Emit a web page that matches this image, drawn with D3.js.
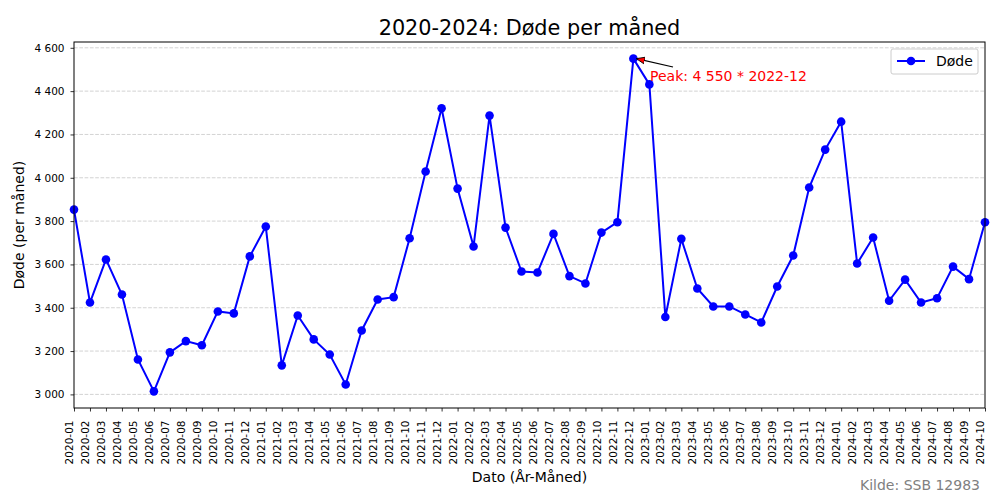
<!DOCTYPE html>
<html><head><meta charset="utf-8">
<script src="https://cdn.jsdelivr.net/npm/d3@7"></script>
<style>body{margin:0;background:#fff}svg{display:block}svg text{font-family:"DejaVu Sans",sans-serif}</style>
</head><body><svg id="c" width="1000" height="500"></svg>
<script>
const months = ["2020-01","2020-02","2020-03","2020-04","2020-05","2020-06","2020-07","2020-08","2020-09","2020-10","2020-11","2020-12",
"2021-01","2021-02","2021-03","2021-04","2021-05","2021-06","2021-07","2021-08","2021-09","2021-10","2021-11","2021-12",
"2022-01","2022-02","2022-03","2022-04","2022-05","2022-06","2022-07","2022-08","2022-09","2022-10","2022-11","2022-12",
"2023-01","2023-02","2023-03","2023-04","2023-05","2023-06","2023-07","2023-08","2023-09","2023-10","2023-11","2023-12",
"2024-01","2024-02","2024-03","2024-04","2024-05","2024-06","2024-07","2024-08","2024-09","2024-10"];
const deaths = [3853,3424,3623,3461,3161,3014,3194,3246,3227,3383,3374,3637,
3775,3134,3364,3254,3184,3046,3295,3438,3449,3721,4029,4321,
3950,3683,4287,3770,3567,3563,3741,3546,3512,3747,3795,4550,
4431,3357,3718,3489,3406,3406,3369,3332,3498,3641,3955,4130,
4259,3604,3724,3432,3530,3424,3444,3590,3532,3795];
const yTicks = [3000,3200,3400,3600,3800,4000,4200,4400,4600];

const svg = d3.select("#c");
const L=74,R=985,T=42,B=408;
const x = d3.scalePoint().domain(months).range([L,R]).padding(0);
const mn=d3.min(deaths), mx=d3.max(deaths), pad=(mx-mn)*0.05;
const y = d3.scaleLinear().domain([mn-pad, mx+pad]).range([B,T]);
const fmt = d3.formatLocale({decimal:",",thousands:" ",grouping:[3],currency:["",""]}).format(",d");

// grid
svg.append("g").selectAll("line").data(yTicks).join("line")
  .attr("x1",L).attr("x2",R).attr("y1",d=>y(d)).attr("y2",d=>y(d))
  .attr("stroke","#b0b0b0").attr("stroke-opacity",0.7).attr("stroke-width",0.8).attr("stroke-dasharray","3.7,1.6");

// axes
const gx = svg.append("g").attr("transform",`translate(0,${B})`)
  .call(d3.axisBottom(x).tickSize(3.5).tickPadding(3.5));
gx.attr("font-family",null).attr("font-size",null);
gx.select(".domain").remove();
gx.selectAll("line").attr("stroke","#000").attr("stroke-width",0.8);
gx.selectAll("text").style("font-size","10.5px").attr("fill","#000")
  .attr("transform","rotate(-90)").attr("text-anchor","end").attr("y",0).attr("x",-12.5).attr("dy","-0.13em");
const gy = svg.append("g").attr("transform",`translate(${L},0)`)
  .call(d3.axisLeft(y).tickValues(yTicks).tickFormat(fmt).tickSize(3.5).tickPadding(6));
gy.attr("font-family",null).attr("font-size",null);
gy.select(".domain").remove();
gy.selectAll("line").attr("stroke","#000").attr("stroke-width",0.8);
gy.selectAll("text").style("font-size","10.5px").attr("fill","#000");

// line
svg.append("path").datum(deaths)
  .attr("d", d3.line().x((d,i)=>x(months[i])).y(d=>y(d)))
  .attr("fill","none").attr("stroke","#0000ff").attr("stroke-width",2);
svg.append("g").selectAll("circle").data(deaths).join("circle")
  .attr("cx",(d,i)=>x(months[i])).attr("cy",d=>y(d)).attr("r",4.3).attr("fill","#0000ff");

// frame
svg.append("rect").attr("x",L).attr("y",T).attr("width",R-L).attr("height",B-T)
  .attr("fill","none").attr("stroke","#000").attr("stroke-width",1);

// title & labels
svg.append("text").attr("x",(L+R)/2).attr("y",35).attr("text-anchor","middle").attr("font-size",20.8).text("2020-2024: Døde per måned");
svg.append("text").attr("x",(L+R)/2).attr("y",482).attr("text-anchor","middle").attr("font-size",14).text("Dato (År-Måned)");
svg.append("text").attr("transform",`translate(24,${(T+B)/2}) rotate(-90)`).attr("text-anchor","middle").attr("font-size",14).text("Døde (per måned)");
svg.append("text").attr("x",980).attr("y",490).attr("text-anchor","end").attr("font-size",14).attr("fill","#808080").text("Kilde: SSB 12983");

// annotation
const pi = deaths.indexOf(mx);
const px = x(months[pi]), py = y(mx);
svg.append("defs").append("marker").attr("id","ah").attr("viewBox","0 0 10 10").attr("refX",10).attr("refY",5)
  .attr("markerWidth",7).attr("markerHeight",7).attr("orient","auto-start-reverse")
  .append("path").attr("d","M0,1 L10,5 L0,9 Z").attr("fill","red").attr("stroke","black").attr("stroke-width",1);
svg.append("line").attr("x1",673).attr("y1",67).attr("x2",px+3).attr("y2",py)
  .attr("stroke","#000").attr("stroke-width",1.2).attr("marker-end","url(#ah)");
svg.append("text").attr("x",650).attr("y",81).attr("font-size",14).attr("fill","red")
  .text(`Peak: ${fmt(mx)} * ${months[pi]}`);

// legend
const lg = svg.append("g");
lg.append("rect").attr("x",891).attr("y",49).attr("width",87).attr("height",25).attr("rx",2)
  .attr("fill","#fff").attr("fill-opacity",0.8).attr("stroke","#ccc").attr("stroke-width",1);
lg.append("line").attr("x1",897).attr("x2",925).attr("y1",61).attr("y2",61).attr("stroke","#0000ff").attr("stroke-width",2);
lg.append("circle").attr("cx",911).attr("cy",61).attr("r",4.3).attr("fill","#0000ff");
lg.append("text").attr("x",936).attr("y",66).attr("font-size",14).text("Døde");
</script></body></html>
